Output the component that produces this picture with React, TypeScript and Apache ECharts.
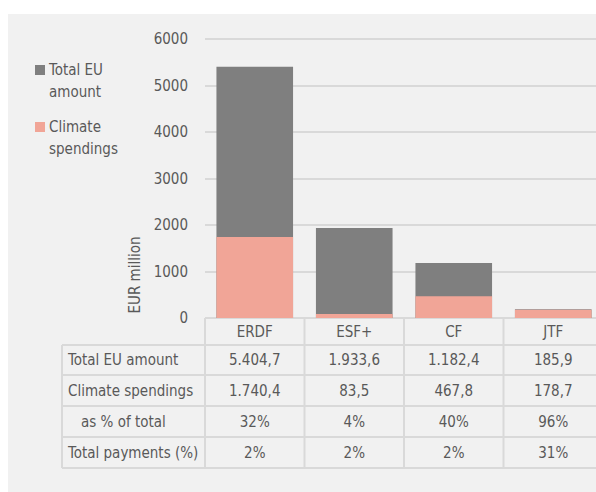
import React, { useEffect, useRef } from 'react';
import * as echarts from 'echarts';

const categories = ['ERDF', 'ESF+', 'CF', 'JTF'];
const totalEU = [5404.7, 1933.6, 1182.4, 185.9];
const climate = [1740.4, 83.5, 467.8, 178.7];
const shareOfTotal = [32, 4, 40, 96];
const totalPayments = [2, 2, 2, 31];
const rowLabels = ['Total EU amount', 'Climate spendings', 'as % of total', 'Total payments (%)'];
const seriesNames = ['Total EU amount', 'Climate spendings'];
const legendLabels = ['Total EU\namount', 'Climate\nspendings'];
const yAxisTitle = 'EUR million';

const FONT = '"DejaVu Sans Condensed", "DejaVu Sans", sans-serif';
const TEXT = '#595959';
const GRAY = '#7f7f7f';
const PINK = '#f1a597';
const LINE = '#d9d9d9';

const fmt = (n: number) => {
  const [i, d] = n.toFixed(1).split('.');
  return i.replace(/\B(?=(\d{3})+(?!\d))/g, '.') + ',' + d;
};

const GRID_LEFT = 205;
const GRID_RIGHT = 10;
const CHART_W = 613; // wider than the window: the table is cut off at the right edge
const GRID_TOP = 39;
const AXIS_Y = 318;
const H = 492;
const W = 596;

export default function App() {
  const ref = useRef<HTMLDivElement>(null);
  useEffect(() => {
    document.body.style.margin = '0';
    document.body.style.overflow = 'hidden';
    const chart = echarts.init(ref.current!, undefined, { renderer: 'svg' });
    chart.setOption({
      animation: false,
      textStyle: { fontFamily: FONT },
      grid: { left: GRID_LEFT, right: GRID_RIGHT, top: GRID_TOP, bottom: H - AXIS_Y, containLabel: false },
      xAxis: {
        type: 'category',
        data: categories,
        axisLine: { show: false },
        axisTick: { show: false },
        axisLabel: { color: TEXT, fontSize: 15, fontFamily: FONT, margin: 14, verticalAlign: 'middle' },
      },
      yAxis: {
        type: 'value',
        min: 0,
        max: 6000,
        interval: 1000,
        axisLine: { show: false },
        axisTick: { show: false },
        axisLabel: { color: TEXT, fontSize: 15, fontFamily: FONT, margin: 17, formatter: (v: number) => String(v) },
        splitLine: { lineStyle: { color: LINE, width: 2 } },
      },
      series: [
        { name: seriesNames[0], type: 'bar', data: totalEU, barWidth: '77%', barGap: '-100%', itemStyle: { color: GRAY } },
        { name: seriesNames[1], type: 'bar', data: climate, barWidth: '77%', barGap: '-100%', itemStyle: { color: PINK } },
      ],
    });

    const xs = categories.map((c) => chart.convertToPixel({ xAxisIndex: 0 }, c) as number);
    const step = xs.length > 1 ? xs[1] - xs[0] : 100;
    const bounds = [xs[0] - step / 2, ...xs.map((x) => x + step / 2)];
    const rowTops = [345, 375, 406, 437, 468];
    const tableLeft = 62;
    const els: any[] = [];
    const line = (x1: number, y1: number, x2: number, y2: number) =>
      els.push({ type: 'line', shape: { x1, y1, x2, y2 }, style: { stroke: LINE, lineWidth: 2 }, silent: true });
    line(bounds[0], AXIS_Y, bounds[bounds.length - 1], AXIS_Y);
    rowTops.forEach((y) => line(tableLeft, y, bounds[bounds.length - 1], y));
    line(tableLeft, rowTops[0], tableLeft, rowTops[rowTops.length - 1]);
    bounds.forEach((x) => line(x, AXIS_Y, x, rowTops[rowTops.length - 1]));

    const rows = [
      totalEU.map(fmt),
      climate.map(fmt),
      shareOfTotal.map((v) => v + '%'),
      totalPayments.map((v) => v + '%'),
    ];
    rows.forEach((vals, r) => {
      const cy = (rowTops[r] + rowTops[r + 1]) / 2;
      els.push({
        type: 'text',
        x: r === 2 ? 81 : 68,
        y: cy,
        style: { text: rowLabels[r], fill: TEXT, fontSize: 15, fontFamily: FONT, verticalAlign: 'middle', align: 'left' },
      });
      vals.forEach((v, c) => {
        els.push({
          type: 'text',
          x: xs[c],
          y: cy,
          style: { text: v, fill: TEXT, fontSize: 15, fontFamily: FONT, verticalAlign: 'middle', align: 'center' },
        });
      });
    });

    const legendColors = [GRAY, PINK];
    const legendTops = [59, 116];
    legendLabels.forEach((t, i) => {
      els.push({ type: 'rect', shape: { x: 35, y: legendTops[i] + 6, width: 10, height: 10 }, style: { fill: legendColors[i] } });
      els.push({
        type: 'text',
        x: 49,
        y: legendTops[i],
        style: { text: t, fill: TEXT, fontSize: 15, fontFamily: FONT, lineHeight: 22, verticalAlign: 'top', align: 'left' },
      });
    });

    els.push({
      type: 'text',
      x: 135,
      y: 275,
      rotation: Math.PI / 2,
      style: { text: yAxisTitle, fill: TEXT, fontSize: 15, fontFamily: FONT, align: 'center', verticalAlign: 'middle' },
    });

    chart.setOption({ graphic: { elements: els } });
    return () => chart.dispose();
  }, []);

  return (
    <div style={{ position: 'relative', width: W, height: H, background: '#fff', overflow: 'hidden' }}>
      <div style={{ position: 'absolute', left: 8, top: 14, width: W - 8, height: H - 14, background: '#f1f1f1' }} />
      <div ref={ref} style={{ position: 'absolute', left: 0, top: 0, width: CHART_W, height: H }} />
    </div>
  );
}
